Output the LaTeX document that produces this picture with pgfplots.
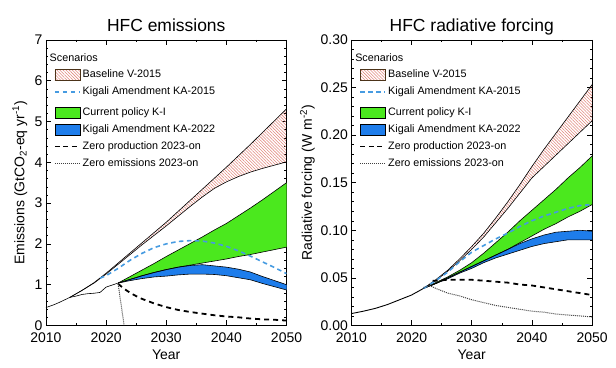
\documentclass[border=0pt]{standalone}
\usepackage{fontspec}
\setmainfont{Liberation Sans}
\usepackage{pgfplots}
\usepackage{pgfplotstable}
\pgfplotsset{compat=1.18}
\usepgfplotslibrary{fillbetween}
\usetikzlibrary{patterns.meta}

\definecolor{hatchc}{RGB}{225,135,125}
\definecolor{kigc}{RGB}{70,155,225}
\definecolor{grn}{RGB}{75,232,30}
\definecolor{blu}{RGB}{30,125,235}

% ---------------- Emissions data ----------------
\pgfplotstableread{
year v
2010 0.44
2011 0.49
2012 0.55
2013 0.62
2014 0.69
2015 0.72
2016 0.76
2017 0.78
2018 0.79
2019 0.81
2020 0.94
2021 0.99
2022 1.04
}\EmHist
\pgfplotstableread{
year lo hi
2014 0.69 0.69
2016 0.86 0.86
2018 1.04 1.05
2020 1.26 1.28
2022 1.50 1.53
2024 1.74 1.78
2026 1.98 2.03
2028 2.21 2.28
2030 2.44 2.53
2032 2.68 2.80
2034 2.92 3.07
2036 3.15 3.34
2038 3.36 3.61
2040 3.52 3.88
2042 3.65 4.16
2044 3.76 4.44
2046 3.85 4.73
2048 3.93 5.02
2050 4.01 5.31
}\EmBase
\pgfplotstableread{
year lo hi
2022 1.04 1.04
2024 1.13 1.20
2026 1.22 1.36
2028 1.30 1.52
2030 1.37 1.69
2032 1.43 1.85
2034 1.48 2.01
2036 1.53 2.17
2038 1.58 2.34
2040 1.63 2.50
2042 1.69 2.69
2044 1.74 2.88
2046 1.80 3.08
2048 1.86 3.29
2050 1.92 3.50
}\EmKI
\pgfplotstableread{
year lo hi
2022 1.04 1.04
2024 1.10 1.13
2026 1.15 1.22
2028 1.19 1.30
2030 1.21 1.37
2032 1.24 1.43
2034 1.26 1.47
2036 1.26 1.49
2038 1.25 1.46
2040 1.22 1.43
2042 1.17 1.38
2044 1.12 1.31
2046 1.03 1.20
2048 0.95 1.10
2050 0.87 1.00
}\EmKAtt
\pgfplotstableread{
year v
2019 1.16
2020 1.22
2022 1.40
2024 1.60
2026 1.77
2028 1.91
2030 2.00
2032 2.06
2034 2.08
2036 2.07
2038 2.02
2040 1.94
2042 1.83
2044 1.70
2046 1.56
2048 1.42
2050 1.27
}\EmKAff
\pgfplotstableread{
year v
2022 1.02
2023 0.90
2024 0.80
2025 0.72
2026 0.65
2028 0.54
2030 0.45
2032 0.38
2034 0.33
2036 0.29
2038 0.25
2040 0.22
2042 0.20
2044 0.17
2046 0.15
2048 0.14
2050 0.12
}\EmZP
\pgfplotstableread{
year v
2022 1.02
2023 0.00
}\EmZE

% ---------------- Forcing data ----------------
\pgfplotstableread{
year v
2010 0.0125
2012 0.015
2014 0.018
2016 0.022
2018 0.027
2020 0.032
2022 0.039
}\RfHist
\pgfplotstableread{
year lo hi
2022 0.039 0.039
2024 0.047 0.048
2026 0.057 0.058
2028 0.068 0.070
2030 0.080 0.083
2032 0.093 0.097
2034 0.108 0.113
2036 0.123 0.130
2038 0.139 0.148
2040 0.155 0.167
2042 0.167 0.185
2044 0.179 0.202
2046 0.191 0.219
2048 0.203 0.236
2050 0.215 0.253
}\RfBase
\pgfplotstableread{
year lo hi
2022 0.039 0.039
2024 0.044 0.045
2026 0.050 0.051
2028 0.056 0.058
2030 0.062 0.066
2032 0.068 0.076
2034 0.074 0.087
2036 0.080 0.098
2038 0.087 0.110
2040 0.094 0.121
2042 0.101 0.132
2044 0.107 0.143
2046 0.114 0.155
2048 0.120 0.166
2050 0.127 0.178
}\RfKI
\pgfplotstableread{
year lo hi
2022 0.039 0.039
2024 0.044 0.044
2026 0.049 0.050
2028 0.055 0.056
2030 0.060 0.062
2032 0.066 0.068
2034 0.071 0.074
2036 0.075 0.080
2038 0.079 0.086
2040 0.083 0.091
2042 0.086 0.095
2044 0.088 0.098
2046 0.090 0.099
2048 0.090 0.100
2050 0.090 0.099
}\RfKAtt
\pgfplotstableread{
year v
2022 0.039
2024 0.047
2026 0.056
2028 0.067
2030 0.077
2032 0.084
2034 0.091
2036 0.097
2038 0.104
2040 0.110
2042 0.115
2044 0.119
2046 0.123
2048 0.126
2050 0.127
}\RfKAff
\pgfplotstableread{
year v
2023.5 0.047
2024 0.047
2026 0.048
2028 0.048
2030 0.048
2032 0.047
2034 0.046
2036 0.045
2038 0.043
2040 0.042
2042 0.040
2044 0.038
2046 0.036
2048 0.034
2050 0.032
}\RfZP
\pgfplotstableread{
year v
2022 0.040
2023 0.042
2024 0.039
2026 0.034
2028 0.031
2030 0.027
2032 0.024
2034 0.021
2036 0.019
2038 0.017
2040 0.015
2042 0.014
2044 0.012
2046 0.011
2048 0.010
2050 0.009
}\RfZE

\pgfplotsset{
  boxleg/.style={legend image code/.code={\draw[##1] (0pt,-5.5pt) rectangle (25pt,5.5pt);}},
  lineleg/.style={legend image code/.code={\draw[##1] (0pt,0pt) -- (25pt,0pt);}},
  linelegsp/.style={legend image code/.code={\draw[##1] (0pt,0pt) -- (25pt,0pt); \path (0pt,-10pt) -- (0pt,-10pt);}},
  zpleg/.style={legend image code/.code={\draw[black, line width=1.8pt, dash pattern=on 5pt off 3.5pt] (0pt,0pt) -- (25pt,0pt);}},
  edge/.style={black, line width=0.6pt},
  kastyle/.style={kigc, line width=1.6pt, dash pattern=on 4.5pt off 3.5pt},
  zpstyle/.style={black, line width=1.8pt, dash pattern=on 5pt off 4pt},
  zestyle/.style={black!75, line width=1pt, dash pattern=on 1pt off 1pt},
  hatchstyle/.style={pattern={Lines[angle=-45,distance=2.2pt,line width=0.55pt]}, pattern color=hatchc},
  hfcax/.style={
    scale only axis, width=241pt, height=286pt,
    xmin=2010, xmax=2050,
    xtick={2010,2020,2030,2040,2050},
    minor xtick={2015,2025,2035,2045},
    minor y tick num=4,
    tick align=inside, tick pos=both,
    major tick length=5pt, minor tick length=2.5pt,
    axis line style={line width=0.6pt},
    every tick/.style={black, line width=0.5pt},
    xticklabel style={/pgf/number format/1000 sep={}, yshift=-4pt},
    /pgf/number format/assume math mode=true,
    tick label style={font=\fontsize{14}{16}\selectfont},
    label style={font=\fontsize{14}{16}\selectfont},
    title style={font=\fontsize{17.5}{20}\selectfont, at={(0.5,1)}, anchor=base, yshift=2pt},
    xlabel={Year},
    xlabel style={yshift=0pt},
    legend cell align=left,
    legend style={draw=none, fill=none, at={(0.02,0.968)}, anchor=north west,
      font=\fontsize{10.8}{12}\selectfont, row sep=3.6pt,
      /tikz/every even column/.append style={column sep=3pt}},
  },
}

\begin{document}
\begin{tikzpicture}
% ================= Emissions =================
\begin{axis}[hfcax, name=L,
  ymin=0, ymax=7, ytick={0,1,...,7},
  title={HFC emissions},
  ylabel={Emissions (GtCO\textsubscript{2}-eq yr\textsuperscript{-1})},
  ylabel style={at={(axis description cs:-0.108,0.5)}, anchor=center},
]
\addlegendimage{empty legend}
\addlegendentry{\hspace*{-33pt}Scenarios}
\addlegendimage{boxleg, hatchstyle, draw=black!60!brown}
\addlegendentry{Baseline V-2015}
\addlegendimage{linelegsp, kastyle}
\addlegendentry{Kigali Amendment KA-2015}
\addlegendimage{boxleg, fill=grn, draw=black}
\addlegendentry{Current policy K-I}
\addlegendimage{boxleg, fill=blu, draw=black}
\addlegendentry{Kigali Amendment KA-2022}
\addlegendimage{zpleg}
\addlegendentry{Zero production 2023-on}
\addlegendimage{lineleg, zestyle}
\addlegendentry{Zero emissions 2023-on}

\addplot[edge, name path=ebl, forget plot] table[x=year, y=lo] {\EmBase};
\addplot[edge, name path=ebh, forget plot] table[x=year, y=hi] {\EmBase};
\addplot[hatchstyle, forget plot] fill between[of=ebh and ebl];
\addplot[forget plot, name path=egl, draw=none] table[x=year, y=lo] {\EmKI};
\addplot[forget plot, name path=egh, draw=none] table[x=year, y=hi] {\EmKI};
\addplot[fill=grn, forget plot] fill between[of=egh and egl];
\addplot[edge, forget plot] table[x=year, y=lo] {\EmKI};
\addplot[edge, forget plot] table[x=year, y=hi] {\EmKI};
\addplot[forget plot, name path=ebbl, draw=none] table[x=year, y=lo] {\EmKAtt};
\addplot[forget plot, name path=ebbh, draw=none] table[x=year, y=hi] {\EmKAtt};
\addplot[fill=blu, forget plot] fill between[of=ebbh and ebbl];
\addplot[edge, forget plot] table[x=year, y=lo] {\EmKAtt};
\addplot[edge, forget plot] table[x=year, y=hi] {\EmKAtt};
\addplot[edge, forget plot] table[x=year, y=v] {\EmHist};
\addplot[kastyle, forget plot] table[x=year, y=v] {\EmKAff};
\addplot[zpstyle, forget plot] table[x=year, y=v] {\EmZP};
\addplot[zestyle, forget plot] table[x=year, y=v] {\EmZE};
\end{axis}

% ================= Forcing =================
\begin{axis}[hfcax, name=R, at={(306pt,0pt)},
  ymin=0, ymax=0.30, ytick={0,0.05,0.10,0.15,0.20,0.25,0.30},
  yticklabel style={/pgf/number format/.cd, fixed, fixed zerofill, precision=2},
  title={HFC radiative forcing},
  ylabel={Radiative forcing (W m\textsuperscript{-2})},
  ylabel style={at={(axis description cs:-0.183,0.5)}, anchor=center},
]
\addlegendimage{empty legend}
\addlegendentry{\hspace*{-33pt}Scenarios}
\addlegendimage{boxleg, hatchstyle, draw=black!60!brown}
\addlegendentry{Baseline V-2015}
\addlegendimage{linelegsp, kastyle}
\addlegendentry{Kigali Amendment KA-2015}
\addlegendimage{boxleg, fill=grn, draw=black}
\addlegendentry{Current policy K-I}
\addlegendimage{boxleg, fill=blu, draw=black}
\addlegendentry{Kigali Amendment KA-2022}
\addlegendimage{zpleg}
\addlegendentry{Zero production 2023-on}
\addlegendimage{lineleg, zestyle}
\addlegendentry{Zero emissions 2023-on}

\addplot[edge, name path=rbl, forget plot] table[x=year, y=lo] {\RfBase};
\addplot[edge, name path=rbh, forget plot] table[x=year, y=hi] {\RfBase};
\addplot[hatchstyle, forget plot] fill between[of=rbh and rbl];
\addplot[forget plot, name path=rgl, draw=none] table[x=year, y=lo] {\RfKI};
\addplot[forget plot, name path=rgh, draw=none] table[x=year, y=hi] {\RfKI};
\addplot[fill=grn, forget plot] fill between[of=rgh and rgl];
\addplot[edge, forget plot] table[x=year, y=lo] {\RfKI};
\addplot[edge, forget plot] table[x=year, y=hi] {\RfKI};
\addplot[forget plot, name path=rbbl, draw=none] table[x=year, y=lo] {\RfKAtt};
\addplot[forget plot, name path=rbbh, draw=none] table[x=year, y=hi] {\RfKAtt};
\addplot[fill=blu, forget plot] fill between[of=rbbh and rbbl];
\addplot[edge, forget plot] table[x=year, y=lo] {\RfKAtt};
\addplot[edge, forget plot] table[x=year, y=hi] {\RfKAtt};
\addplot[edge, line width=0.9pt, forget plot] table[x=year, y=v] {\RfHist};
\addplot[kastyle, forget plot] table[x=year, y=v] {\RfKAff};
\addplot[zpstyle, forget plot] table[x=year, y=v] {\RfZP};
\addplot[zestyle, forget plot] table[x=year, y=v] {\RfZE};
\end{axis}

\pgfresetboundingbox
\path ([xshift=-46pt,yshift=-42pt]L.south west) rectangle ([xshift=24pt,yshift=40pt]R.north east);
\end{tikzpicture}
\end{document}
